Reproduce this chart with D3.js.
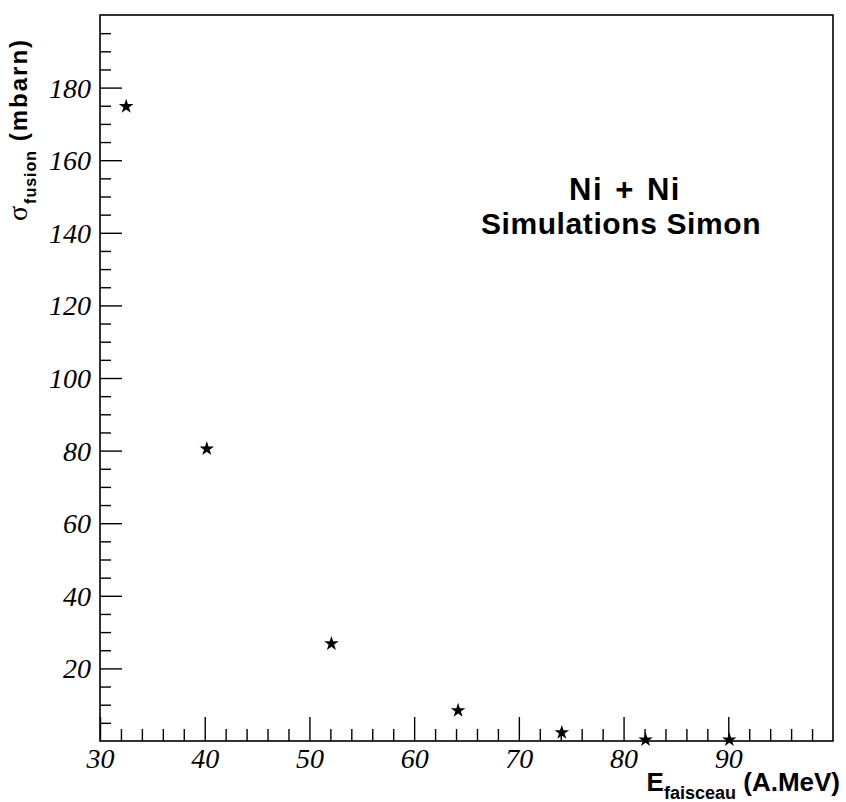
<!DOCTYPE html>
<html>
<head>
<meta charset="utf-8">
<script src="https://cdn.jsdelivr.net/npm/d3@7"></script>
<style>
  html, body { margin: 0; padding: 0; background: #fff; }
  svg { display: block; }
</style>
</head>
<body>
<svg id="chart" width="846" height="802"></svg>
<script>
// ---- data ----
const energies = [32.5, 40.2, 52.1, 64.2, 74.1, 82.1, 90.1];
const sigmaFusion = [174.8, 80.5, 26.8, 8.4, 2.3, 0.3, 0.3];
const xMajorTicks = [30, 40, 50, 60, 70, 80, 90];
const xMinorTicks = [32, 34, 36, 38, 42, 44, 46, 48, 52, 54, 56, 58, 62, 64, 66, 68, 72, 74, 76, 78, 82, 84, 86, 88, 92, 94, 96, 98];
const yMajorTicks = [20, 40, 60, 80, 100, 120, 140, 160, 180];
const yMinorTicks = [5, 10, 15, 25, 30, 35, 45, 50, 55, 65, 70, 75, 85, 90, 95, 105, 110, 115, 125, 130, 135, 145, 150, 155, 165, 170, 175, 185, 190, 195];
const xDomain = [30, 100];
const yDomain = [0, 200];

// ---- layout ----
const svg = d3.select("#chart");
const L = 100, R = 833, T = 15, B = 741;
const x = d3.scaleLinear().domain(xDomain).range([L, R]);
const y = d3.scaleLinear().domain(yDomain).range([B, T]);

const tickFont = "'Liberation Serif', 'Times New Roman', serif";
const boldFont = "'Liberation Sans', Arial, Helvetica, sans-serif";

// frame
svg.append("rect")
  .attr("x", L).attr("y", T).attr("width", R - L).attr("height", B - T)
  .attr("fill", "none").attr("stroke", "#000").attr("stroke-width", 1.6);

// x axis
const gxMaj = svg.append("g").attr("transform", `translate(0,${B})`)
  .call(d3.axisBottom(x).tickValues(xMajorTicks).tickSize(-24).tickPadding(7).tickFormat(d3.format("d")));
const gxMin = svg.append("g").attr("transform", `translate(0,${B})`)
  .call(d3.axisBottom(x).tickValues(xMinorTicks).tickSize(-12).tickFormat(""));
// y axis
const gyMaj = svg.append("g").attr("transform", `translate(${L},0)`)
  .call(d3.axisLeft(y).tickValues(yMajorTicks).tickSize(-22).tickPadding(9).tickFormat(d3.format("d")));
const gyMin = svg.append("g").attr("transform", `translate(${L},0)`)
  .call(d3.axisLeft(y).tickValues(yMinorTicks).tickSize(-11).tickFormat(""));

[gxMaj, gxMin, gyMaj, gyMin].forEach(g => {
  g.select(".domain").remove();
  g.selectAll(".tick line").attr("stroke", "#000").attr("stroke-width", 1.4);
  g.selectAll(".tick text")
    .attr("fill", "#000")
    .style("font-family", tickFont)
    .style("font-style", "italic")
    .style("font-size", "28px");
});
gyMaj.selectAll(".tick text").attr("dy", "0.34em");

// data points (stars)
svg.append("g").selectAll("path")
  .data(energies.map((e, i) => ({ e, s: sigmaFusion[i] })))
  .join("path")
  .attr("transform", d => `translate(${x(d.e)},${y(d.s)})`)
  .attr("d", d3.symbol().type(d3.symbolStar).size(66))
  .attr("fill", "#000");

// annotation
svg.append("text")
  .attr("x", 625).attr("y", 200)
  .attr("text-anchor", "middle")
  .style("font-family", boldFont).style("font-weight", "bold").style("font-size", "31px")
  .style("letter-spacing", "1.5px").style("word-spacing", "2px")
  .text("Ni + Ni");
svg.append("text")
  .attr("x", 621).attr("y", 234)
  .attr("text-anchor", "middle")
  .style("font-family", boldFont).style("font-weight", "bold").style("font-size", "30px")
  .style("letter-spacing", "0.6px")
  .text("Simulations Simon");

// x axis title
const xt = svg.append("text")
  .attr("x", 840).attr("y", 791)
  .attr("text-anchor", "end")
  .style("font-family", boldFont).style("font-weight", "bold").style("font-size", "26px");
xt.append("tspan").text("E");
xt.append("tspan").attr("dy", 8).style("font-size", "18px").text("faisceau");
xt.append("tspan").attr("dy", -8).text(" (A.MeV)");

// y axis title
const yt = svg.append("text")
  .attr("transform", "translate(27,221) rotate(-90)")
  .attr("text-anchor", "start")
  .style("font-family", boldFont).style("font-weight", "bold").style("font-size", "24px")
  .style("letter-spacing", "2px");
yt.append("tspan").style("font-weight", "normal").style("font-family", tickFont).style("font-size", "28px").text("σ");
yt.append("tspan").attr("dy", 9).style("font-size", "16px").style("letter-spacing", "1px").text("fusion");
yt.append("tspan").attr("dy", -9).text(" (mbarn)");
</script>
</body>
</html>
